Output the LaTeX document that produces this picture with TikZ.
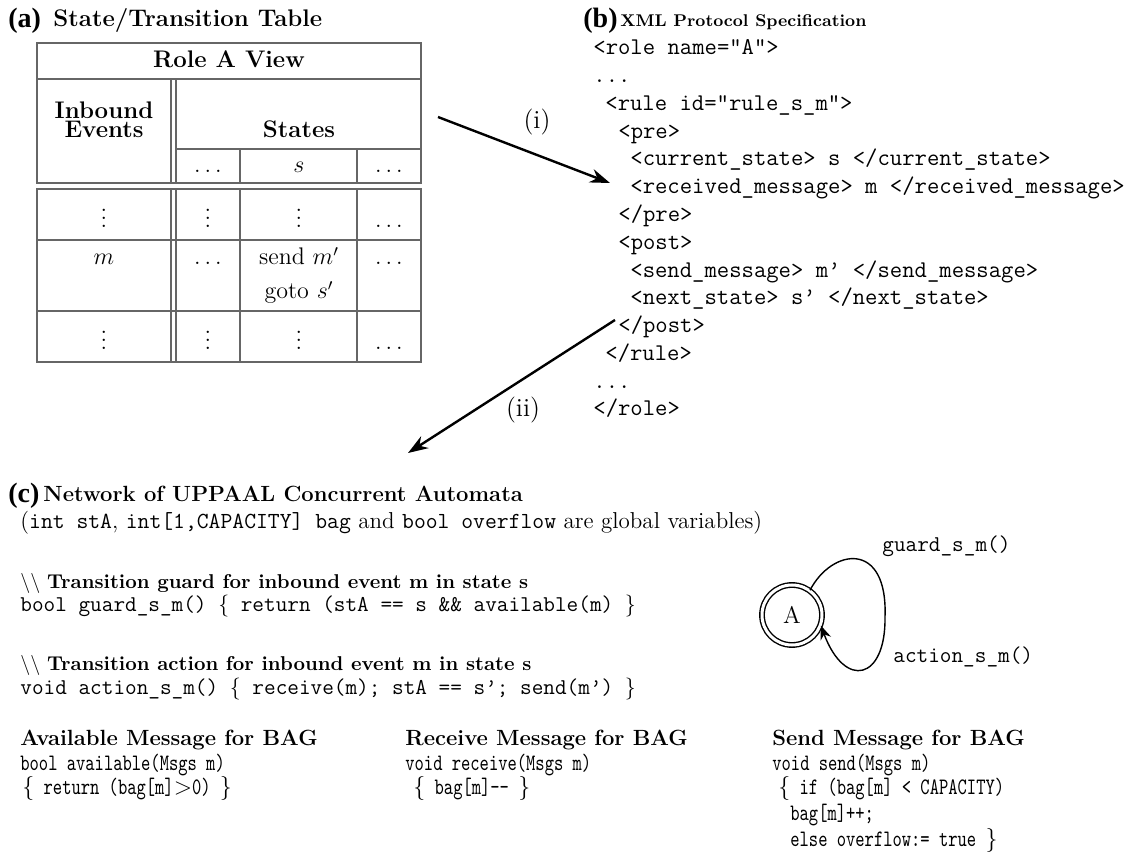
\documentclass[tikz,border=0pt]{standalone}
\usepackage{fontspec}
\usetikzlibrary{arrows.meta}
\newfontfamily\lblfont{Liberation Serif}
\newfontfamily\condtt{lmmono10-regular.otf}[FakeStretch=0.75]

\tikzset{
  tabline/.style={draw=black!60, line width=0.6pt},
  flow/.style={-{Stealth[length=10pt,width=7pt]}, line width=1.2pt},
  txt/.style={anchor=base west, inner sep=0pt},
  ctxt/.style={anchor=base, inner sep=0pt, font=\fontsize{12}{14}\selectfont},
  sublbl/.style={txt, font={\lblfont\bfseries\fontsize{14}{16}\selectfont}},
  hd/.style={txt, font=\fontsize{12}{14}\bfseries},
  xml/.style={txt, font=\fontsize{12}{14}\ttfamily},
  cmt/.style={txt, font=\fontsize{10}{12}\bfseries},
  code/.style={txt, font=\fontsize{11.3}{13}\ttfamily},
  ctt/.style={txt, font=\fontsize{11.8}{14}\condtt},
  bh/.style={txt, font=\fontsize{11}{13}\bfseries},
}

\begin{document}
\begin{tikzpicture}[x=0.5pt,y=0.5pt,yscale=-1]
\useasboundingbox (0,0) rectangle (1148,866);

% (a) state/transition table
\node[sublbl] (lbla) at (8,28) {(a)};
\node[hd] (ttla) at (53,27) {State/Transition Table};

\draw[tabline] (37,43) rectangle (421,183);
\draw[tabline] (37,189) rectangle (421,362);
\draw[tabline] (37,79) -- (421,79);
\draw[tabline] (176,149) -- (421,149);
\draw[tabline] (37,240) -- (421,240);
\draw[tabline] (37,311) -- (421,311);
\draw[tabline] (171,79) -- (171,183) (176,79) -- (176,183);
\draw[tabline] (171,189) -- (171,362) (176,189) -- (176,362);
\draw[tabline] (240,149) -- (240,183) (357,149) -- (357,183);
\draw[tabline] (240,189) -- (240,362) (357,189) -- (357,362);

\node[ctxt, font=\fontsize{12}{14}\bfseries] (role) at (229,68) {Role A View};
\node[ctxt, font=\fontsize{12}{14}\bfseries] (inb) at (104,119) {Inbound};
\node[ctxt, font=\fontsize{12}{14}\bfseries] (evt) at (104,138) {Events};
\node[ctxt, font=\fontsize{12}{14}\bfseries] (sts) at (299,138) {States};
\node[ctxt] (h1) at (208,173) {$\dots$};
\node[ctxt] (h2) at (299,173) {$s$};
\node[ctxt] (h3) at (389,173) {$\dots$};
\node[ctxt] (r11) at (104,228) {$\vdots$};
\node[ctxt] (r12) at (208,228) {$\vdots$};
\node[ctxt] (r13) at (299,228) {$\vdots$};
\node[ctxt] (r14) at (389,228) {$\dots$};
\node[ctxt] (r21) at (104,265) {$m$};
\node[ctxt] (r22) at (208,265) {$\dots$};
\node[ctxt] (r23) at (299,265) {send $m'$};
\node[ctxt] (r23b) at (299,299) {goto $s'$};
\node[ctxt] (r24) at (389,265) {$\dots$};
\node[ctxt] (r31) at (104,350) {$\vdots$};
\node[ctxt] (r32) at (208,350) {$\vdots$};
\node[ctxt] (r33) at (299,350) {$\vdots$};
\node[ctxt] (r34) at (389,350) {$\dots$};

% (b) xml spec
\node[sublbl] (lblb) at (583,28) {(b)};
\node[txt, font=\fontsize{8.5}{10}\bfseries] (ttlb) at (620,27) {XML Protocol Specification};
\node[xml] (x1) at (593,55) {<role name="A">};
\node[xml] (x2) at (593,83) {...};
\node[xml] (x3) at (605,111) {<rule id="rule\_s\_m">};
\node[xml] (x4) at (618,139) {<pre>};
\node[xml] (x5) at (630,166) {<current\_state> s </current\_state>};
\node[xml] (x6) at (630,194) {<received\_message> m </received\_message>};
\node[xml] (x7) at (618,222) {</pre>};
\node[xml] (x8) at (618,250) {<post>};
\node[xml] (x9) at (630,278) {<send\_message> m\textquoteright{} </send\_message>};
\node[xml] (x10) at (630,305) {<next\_state> s\textquoteright{} </next\_state>};
\node[xml] (x11) at (618,333) {</post>};
\node[xml] (x12) at (605,361) {</rule>};
\node[xml] (x13) at (593,389) {...};
\node[xml] (x14) at (593,416) {</role>};

% transformations
\coordinate (iA) at (438,117);
\coordinate (iB) at (610,183);
\coordinate (iiA) at (615,320);
\coordinate (iiB) at (408,453);
\draw[flow] (iA) -- (iB);
\draw[flow] (iiA) -- (iiB);
\node[anchor=center, inner sep=0pt, font=\fontsize{13}{15}\selectfont] (lbli) at (537,122) {(i)};
\node[anchor=center, inner sep=0pt, font=\fontsize{13}{15}\selectfont] (lblii) at (523,410) {(ii)};

% (c) uppaal automata
\node[sublbl] (lblc) at (8,503) {(c)};
\node[txt, font=\fontsize{11}{13}\bfseries] (ttlc) at (43,502) {Network of UPPAAL Concurrent Automata};
\node[txt, font=\fontsize{11.5}{13}\selectfont] (glob) at (20,529)
  {(\texttt{int stA}, \texttt{int[1,CAPACITY] bag} and \texttt{bool overflow} are global variables)};
\node[cmt] (gcm) at (20,589) {\mdseries$\backslash\backslash$ \bfseries Transition guard for inbound event m in state s};
\node[code] (gfn) at (20,612) {bool guard\_s\_m() $\{$ return (stA == s \&\& available(m) $\}$};
\node[cmt] (acm) at (20,671) {\mdseries$\backslash\backslash$ \bfseries Transition action for inbound event m in state s};
\node[code] (afn) at (20,695) {void action\_s\_m() $\{$ receive(m); stA == s\textquoteright; send(m\textquoteright) $\}$};

\node[circle, draw, double, double distance=1.5pt, line width=0.7pt, minimum size=30pt,
  inner sep=0pt, font=\fontsize{12}{14}\selectfont] (A) at (792,615) {A};
\draw[-{Stealth[length=7pt,width=5.5pt]}, line width=0.7pt] (A.54) .. controls (832,548) and (888,540) .. (885,617)
  .. controls (886,680) and (845,690) .. (A.-20);
\node[code] (grd) at (882,552) {guard\_s\_m()};
\node[code] (act) at (893,662) {action\_s\_m()};

\node[bh] (avh) at (20,746) {Available Message for BAG};
\node[ctt] (av1) at (20,770) {bool available(Msgs m)};
\node[ctt] (av2) at (22,795) {$\{$ return (bag[m]$>$0) $\}$};
\node[bh] (rvh) at (405,746) {Receive Message for BAG};
\node[ctt] (rv1) at (405,770) {void receive(Msgs m)};
\node[ctt] (rv2) at (413,795) {$\{$ bag[m]-- $\}$};
\node[bh] (sdh) at (772,746) {Send Message for BAG};
\node[ctt] (sd1) at (772,770) {void send(Msgs m)};
\node[ctt] (sd2) at (778,795) {$\{$ if (bag[m] < CAPACITY)};
\node[ctt] (sd3) at (790,820) {bag[m]++;};
\node[ctt] (sd4) at (790,846) {else overflow:= true $\}$};
\end{tikzpicture}
\end{document}
